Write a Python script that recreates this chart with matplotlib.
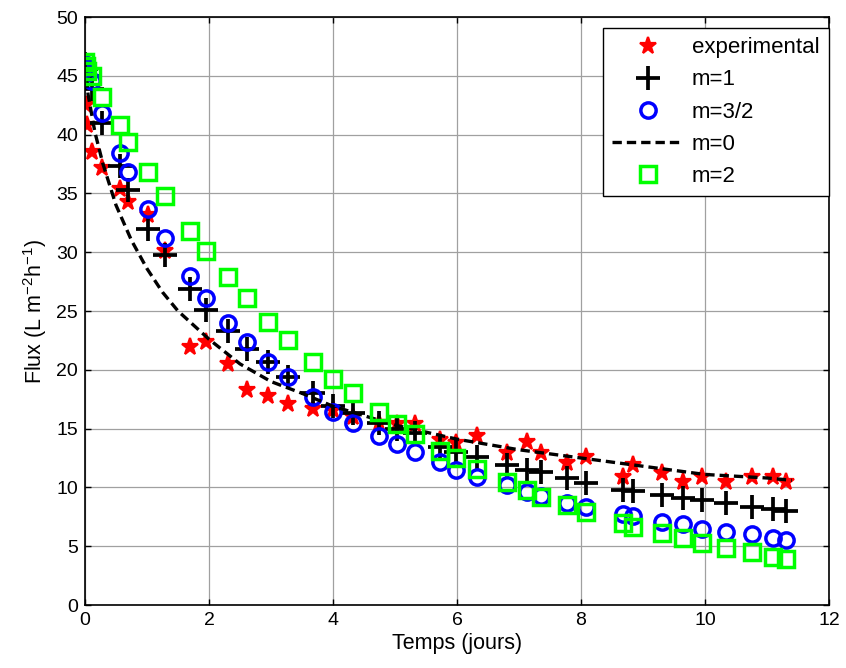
import numpy as np
import matplotlib
matplotlib.use('Agg')
import matplotlib.pyplot as plt

plt.rcParams['font.family'] = ['Liberation Sans', 'DejaVu Sans']
plt.rcParams['mathtext.default'] = 'regular'

# ── data ─────────────────────────────────────────────────────────────────────
t = [0.00, 0.01, 0.04, 0.11, 0.27, 0.56, 0.69, 1.02, 1.29, 1.69,
     1.95, 2.31, 2.61, 2.95, 3.27, 3.68, 4.00, 4.32, 4.74, 5.03,
     5.32, 5.73, 5.98, 6.32, 6.81, 7.13, 7.35, 7.77, 8.08, 8.68,
     8.84, 9.31, 9.65, 9.95, 10.34, 10.76, 11.10, 11.31]

flux_exp = [46.0, 42.5, 40.8, 38.5, 37.2, 35.4, 34.3, 33.2, 30.1, 21.9,
            22.4, 20.5, 18.3, 17.8, 17.1, 16.7, 16.6, 16.0, 15.5, 15.4,
            15.4, 14.0, 13.8, 14.4, 12.9, 13.9, 12.9, 12.1, 12.6, 10.9,
            11.9, 11.2, 10.5, 10.9, 10.5, 10.9, 10.9, 10.5]

flux_m1 = [46.0, 45.6, 45.0, 43.9, 41.0, 37.3, 35.3, 32.0, 29.8, 26.9,
           25.1, 23.3, 21.8, 20.7, 19.4, 18.0, 16.9, 16.3, 15.5, 15.0,
           14.6, 13.4, 13.0, 12.6, 11.9, 11.5, 11.3, 10.8, 10.4, 9.8,
           9.7, 9.35, 9.1, 8.9, 8.7, 8.3, 8.2, 8.0]

flux_m32 = [46.0, 45.7, 45.2, 44.6, 41.8, 38.4, 36.8, 33.7, 31.2, 28.0,
            26.1, 24.0, 22.4, 20.7, 19.4, 17.7, 16.4, 15.5, 14.4, 13.7,
            13.0, 12.2, 11.5, 10.9, 10.2, 9.6, 9.3, 8.7, 8.3, 7.7,
            7.6, 7.1, 6.9, 6.5, 6.2, 6.0, 5.7, 5.5]

flux_m2 = [46.2, 45.8, 45.4, 45.0, 43.2, 40.8, 39.4, 36.8, 34.8, 31.8,
           30.1, 27.9, 26.1, 24.1, 22.5, 20.7, 19.2, 18.0, 16.4, 15.4,
           14.5, 13.1, 12.5, 11.6, 10.5, 9.8, 9.2, 8.5, 7.9, 7.0,
           6.6, 6.1, 5.7, 5.3, 4.85, 4.5, 4.1, 3.9]

# m=0 model curve (dashed)
t_m0 = [0.0, 0.05, 0.16, 0.29, 0.5, 0.75, 1.0, 1.25, 1.5, 2.0,
        2.5, 3.0, 3.5, 4.0, 4.5, 5.0, 5.5, 6.0, 7.0, 8.0,
        9.0, 10.0, 11.0, 11.4]
flux_m0 = [46.0, 43.4, 40.2, 37.5, 34.0, 31.0, 28.6, 26.6, 25.0, 22.6,
           20.5, 19.0, 18.0, 16.9, 16.1, 15.3, 14.7, 14.1, 13.2, 12.5,
           11.8, 11.1, 10.8, 10.6]

# ── figure ───────────────────────────────────────────────────────────────────
fig = plt.figure(figsize=(8.46, 6.68), dpi=100)
ax = fig.add_axes([85 / 846, 63 / 668, 744 / 846, 588 / 668])

ax.plot(t, flux_exp, linestyle='none', marker='*', markersize=12.5,
        markeredgewidth=1.6, color='#ff0000', markeredgecolor='#ff0000',
        label='experimental')
ax.plot(t, flux_m1, linestyle='none', marker='+', markersize=17,
        markeredgewidth=2.7, color='black', label='m=1')
ax.plot(t, flux_m32, linestyle='none', marker='o', markersize=11,
        markeredgewidth=2.5, markerfacecolor='none', color='#0000ff',
        label='m=3/2')
ax.plot(t_m0, flux_m0, linestyle=(0, (2.8, 1.5)), linewidth=2.4,
        color='black', label='m=0')
ax.plot(t, flux_m2, linestyle='none', marker='s', markersize=11.5,
        markeredgewidth=2.5, markerfacecolor='none', color='#00ff00',
        label='m=2')

ax.set_xlim(0, 12)
ax.set_ylim(0, 50)
ax.set_xticks(range(0, 13, 2))
ax.set_yticks(range(0, 51, 5))
ax.grid(True, color='#a0a0a0', linewidth=0.9)
ax.set_axisbelow(True)
ax.tick_params(direction='in', length=4, width=1, top=True, right=True,
               labelsize=14, pad=5)
for sp in ax.spines.values():
    sp.set_linewidth(1.2)

ax.set_xlabel('Temps (jours)', fontsize=15.5, labelpad=3)
ax.set_ylabel('Flux (L m$^{-2}$h$^{-1}$)', fontsize=15.5, labelpad=5)

leg = ax.legend(loc='upper right', bbox_to_anchor=(1.0, 1 - 11 / 588),
                borderaxespad=0, fontsize=16, fancybox=False,
                edgecolor='black', framealpha=1, handlelength=3.2,
                handletextpad=0.4, labelspacing=0.5, borderpad=0.42,
                numpoints=1)
leg.get_frame().set_linewidth(1.0)

fig.savefig('out.png', dpi=100, facecolor='white')
